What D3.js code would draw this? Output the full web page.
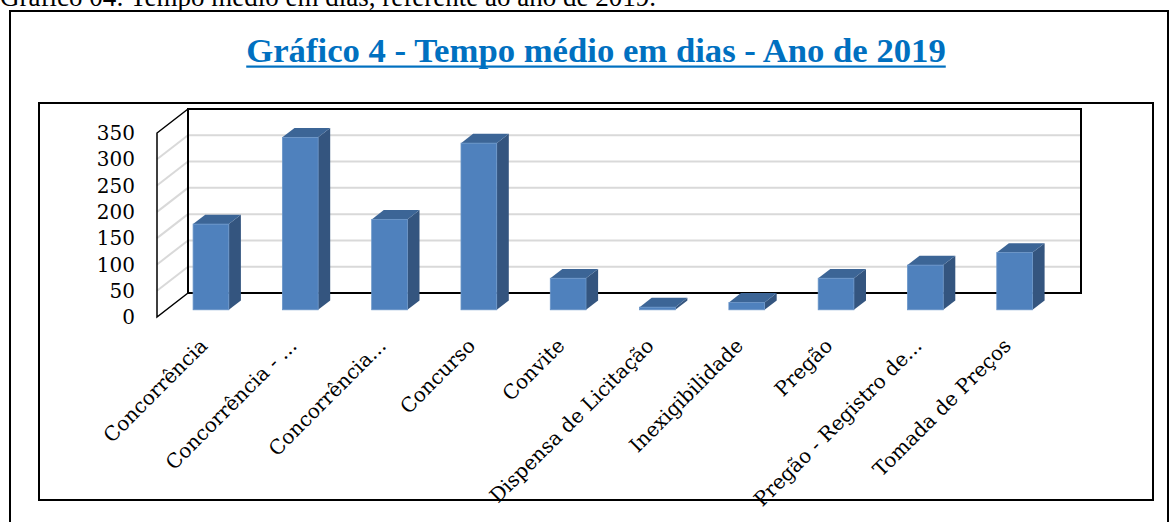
<!DOCTYPE html>
<html>
<head>
<meta charset="utf-8">
<script src="https://cdn.jsdelivr.net/npm/d3@7"></script>
<style>
  body { margin: 0; background: #fff; }
  #chart { width: 1170px; height: 522px; }
  .tick-label { font-family: "DejaVu Serif", serif; font-size: 20px; fill: #000; }
  .cat-label { font-family: "DejaVu Serif", serif; font-size: 20px; fill: #000; }
</style>
</head>
<body>
<div id="chart"></div>
<script>
// Data
const categories = [
  "Concorrência", "Concorrência - ...", "Concorrência...", "Concurso", "Convite",
  "Dispensa de Licitação", "Inexigibilidade", "Pregão", "Pregão - Registro de...", "Tomada de Preços"
];
const values = [163, 328, 172, 317, 60, 5, 14, 60, 85, 109];
const yTicks = [0, 50, 100, 150, 200, 250, 300, 350];

const captionText = "Gráfico 04: Tempo médio em dias, referente ao ano de 2019.";
const titleText = "Gráfico 4 - Tempo médio em dias - Ano de 2019";

function chart() {
  const container = d3.select("#chart");
  const width = 1170;
  const height = 522;

  // 3D frame metrics (front plane origin, depth offset)
  const frontLeft = 157;
  const frontBottom = 317;
  const plotWidth = 893;
  const plotHeight = 184;
  const depthX = 31;
  const depthY = -24;

  const xScale = d3.scaleBand().domain(categories).range([0, plotWidth]);
  const yScale = d3.scaleLinear().domain([0, 350]).range([plotHeight, 0]);

  // project a point (x in plot, value, depth 0..1) to screen
  const px = (x, d) => frontLeft + x + depthX * d;
  const py = (v, d) => frontBottom - plotHeight + yScale(v) + depthY * d;

  const svg = container.append("svg").attr("width", width).attr("height", height);

  // caption (cut at top of page, as in the source)
  svg.append("text")
    .attr("x", 0)
    .attr("y", 6)
    .style("font-family", "'Liberation Serif', serif")
    .style("font-size", "27px")
    .text(captionText);

  // outer frame
  svg.append("rect")
    .attr("x", 10).attr("y", 11)
    .attr("width", 1158).attr("height", 540)
    .attr("fill", "none").attr("stroke", "#000").attr("stroke-width", 2);

  // title
  const title = svg.append("text")
    .attr("x", 596)
    .attr("y", 61.5)
    .attr("text-anchor", "middle")
    .style("font-family", "'Liberation Serif', serif")
    .style("font-size", "34.7px")
    .style("font-weight", "bold")
    .attr("fill", "#0070C0")
    .text(titleText);
  const tw = title.node().getComputedTextLength();
  svg.append("rect")
    .attr("x", 596 - tw / 2).attr("y", 65.5)
    .attr("width", tw).attr("height", 2.2)
    .attr("fill", "#0070C0");

  // inner chart box
  svg.append("rect")
    .attr("x", 39).attr("y", 103)
    .attr("width", 1114).attr("height", 397)
    .attr("fill", "none").attr("stroke", "#000").attr("stroke-width", 2);

  const g = svg.append("g");

  // gridlines on side wall and back wall
  const gridVals = yTicks.filter((v) => v > 0 && v < 350);
  g.selectAll(".grid-side")
    .data(gridVals)
    .join("line")
    .attr("x1", px(0, 0)).attr("y1", (d) => py(d, 0))
    .attr("x2", px(0, 1)).attr("y2", (d) => py(d, 1))
    .attr("stroke", "#d9d9d9").attr("stroke-width", 2);
  g.selectAll(".grid-back")
    .data(gridVals)
    .join("line")
    .attr("x1", px(0, 1)).attr("y1", (d) => py(d, 1))
    .attr("x2", px(plotWidth, 1)).attr("y2", (d) => py(d, 1))
    .attr("stroke", "#d9d9d9").attr("stroke-width", 2);

  // back wall outline
  g.append("rect")
    .attr("x", px(0, 1)).attr("y", py(350, 1))
    .attr("width", plotWidth).attr("height", plotHeight)
    .attr("fill", "none").attr("stroke", "#000").attr("stroke-width", 2);

  // side wall outline
  g.append("path")
    .attr("d", `M${px(0, 1)},${py(350, 1)} L${px(0, 0)},${py(350, 0)} L${px(0, 0)},${py(0, 0)} L${px(0, 1)},${py(0, 1)}`)
    .attr("fill", "none").attr("stroke", "#000").attr("stroke-width", 1.5);

  // y tick labels on front plane
  g.selectAll(".tick-label")
    .data(yTicks)
    .join("text")
    .attr("class", "tick-label")
    .attr("x", 135)
    .attr("y", (d) => py(d, 0))
    .attr("dy", "0.36em")
    .attr("text-anchor", "end")
    .text((d) => d);

  // bars
  const d0 = 0.3;
  const d1 = 0.69;
  const barFrac = 0.4;
  const bw = xScale.bandwidth() * barFrac;
  const bars = g.selectAll(".bar")
    .data(categories.map((c, i) => ({ cat: c, value: values[i] })))
    .join("g")
    .attr("class", "bar");

  const left = (d) => xScale(d.cat) + (xScale.bandwidth() - bw) / 2;

  bars.append("path") // side
    .attr("d", (d) => {
      const x = left(d) + bw;
      return `M${px(x, d0)},${py(0, d0)} L${px(x, d1)},${py(0, d1)} L${px(x, d1)},${py(d.value, d1)} L${px(x, d0)},${py(d.value, d0)}Z`;
    })
    .attr("fill", "#34557f");
  bars.append("path") // top
    .attr("d", (d) => {
      const x = left(d);
      return `M${px(x, d0)},${py(d.value, d0)} L${px(x, d1)},${py(d.value, d1)} L${px(x + bw, d1)},${py(d.value, d1)} L${px(x + bw, d0)},${py(d.value, d0)}Z`;
    })
    .attr("fill", "#3c6596");
  bars.append("rect") // front
    .attr("x", (d) => px(left(d), d0))
    .attr("y", (d) => py(d.value, d0))
    .attr("width", bw)
    .attr("height", (d) => py(0, d0) - py(d.value, d0))
    .attr("fill", "#4f81bd")
    .attr("stroke", "#6a95c8").attr("stroke-width", 0.8);

  // category labels
  g.selectAll(".cat-label")
    .data(categories)
    .join("text")
    .attr("class", "cat-label")
    .attr("text-anchor", "end")
    .attr("transform", (d) => `translate(${px(xScale(d) + xScale.bandwidth() / 2, 0) + 2}, 342) rotate(-45)`)
    .attr("dy", "0.35em")
    .text((d) => d);
}

chart();
</script>
</body>
</html>
